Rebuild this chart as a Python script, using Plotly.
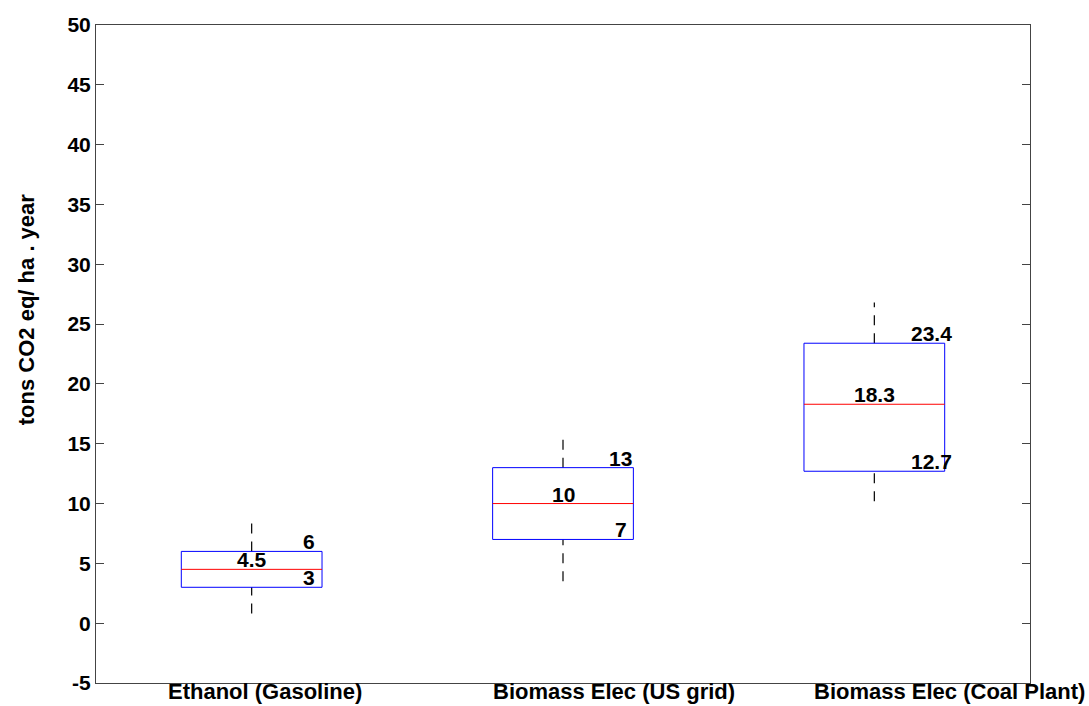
import plotly.graph_objects as go

# Box-plot summary per scenario (tons CO2 eq / ha . year)
categories = ["Ethanol (Gasoline)", "Biomass Elec (US grid)", "Biomass Elec (Coal Plant)"]
q1_vals = [3, 7, 12.7]
median_vals = [4.5, 10, 18.3]
q3_vals = [6, 13, 23.4]
lower_whisker = [0.8, 3.5, 10.2]
upper_whisker = [8.6, 16.0, 26.8]
q1_labels = ["3", "7", "12.7"]
median_labels = ["4.5", "10", "18.3"]
q3_labels = ["6", "13", "23.4"]
y_tick_vals = [-5, 0, 5, 10, 15, 20, 25, 30, 35, 40, 45, 50]
y_tick_text = ["-5", "0", "5", "10", "15", "20", "25", "30", "35", "40", "45", "50"]

positions = [1, 2, 3]
half_w = 0.226
FONT = "Liberation Sans, Arial, sans-serif"
label_font = dict(family=FONT, size=21, color="black", weight="bold")

fig = go.Figure()

for p, lo, q1, med, q3, hi in zip(positions, lower_whisker, q1_vals,
                                   median_vals, q3_vals, upper_whisker):
    # whiskers (dashed, no caps)
    for y0, y1 in ((q3, hi), (lo, q1)):
        fig.add_trace(go.Scatter(
            x=[p, p], y=[y0, y1], mode="lines",
            line=dict(color="#000000", width=1.2, dash="10px,8px"),
            hoverinfo="skip", showlegend=False))
    # box outline
    fig.add_trace(go.Scatter(
        x=[p - half_w, p + half_w, p + half_w, p - half_w, p - half_w],
        y=[q1, q1, q3, q3, q1], mode="lines",
        line=dict(color="#0000ff", width=1),
        hoverinfo="skip", showlegend=False))
    # median
    fig.add_trace(go.Scatter(
        x=[p - half_w, p + half_w], y=[med, med], mode="lines",
        line=dict(color="#ff0000", width=1),
        hoverinfo="skip", showlegend=False))

annotations = []
for p, q1, med, q3, t1, tm, t3 in zip(positions, q1_vals, median_vals, q3_vals,
                                       q1_labels, median_labels, q3_labels):
    for x, y, t in ((p + 0.185, q3, t3), (p + 0.185, q1, t1), (p, med, tm)):
        annotations.append(dict(x=x, y=y, text=t, xref="x", yref="y",
                                xanchor="center", yanchor="bottom", yshift=-3,
                                showarrow=False, font=label_font, borderpad=0))

# category labels under the axis
cat_shift = [13, 51, 75]
for p, name, s in zip(positions, categories, cat_shift):
    annotations.append(dict(x=p, y=0, xref="x", yref="paper", text=name,
                            xanchor="center", yanchor="bottom", xshift=s,
                            yshift=-22, showarrow=False, borderpad=0,
                            font=dict(family=FONT, size=22, color="black", weight="bold")))

# y-axis title
annotations.append(dict(x=-0.075, y=0.568, xref="paper", yref="paper",
                        text="tons CO2 eq/ ha . year", textangle=-90,
                        xanchor="center", yanchor="middle", showarrow=False,
                        font=dict(family=FONT, size=22, color="black", weight="bold")))

fig.update_layout(
    width=1089, height=706,
    margin=dict(l=96, r=59, t=25, b=19),
    paper_bgcolor="white", plot_bgcolor="white",
    annotations=annotations,
    xaxis=dict(range=[0.5, 3.5], showticklabels=False, ticks="",
               showgrid=False, zeroline=False, showline=True,
               linecolor="#444444", linewidth=1, mirror=True),
    yaxis=dict(range=[-5, 50], tickmode="array", tickvals=y_tick_vals,
               ticktext=y_tick_text,
               ticks="inside", ticklen=8, tickcolor="#444444",
               showgrid=False, zeroline=False, showline=True,
               linecolor="#444444", linewidth=1, mirror="ticks",
               tickfont=dict(family=FONT, size=21, color="black", weight="bold")),
)

fig.write_html("out.html")
